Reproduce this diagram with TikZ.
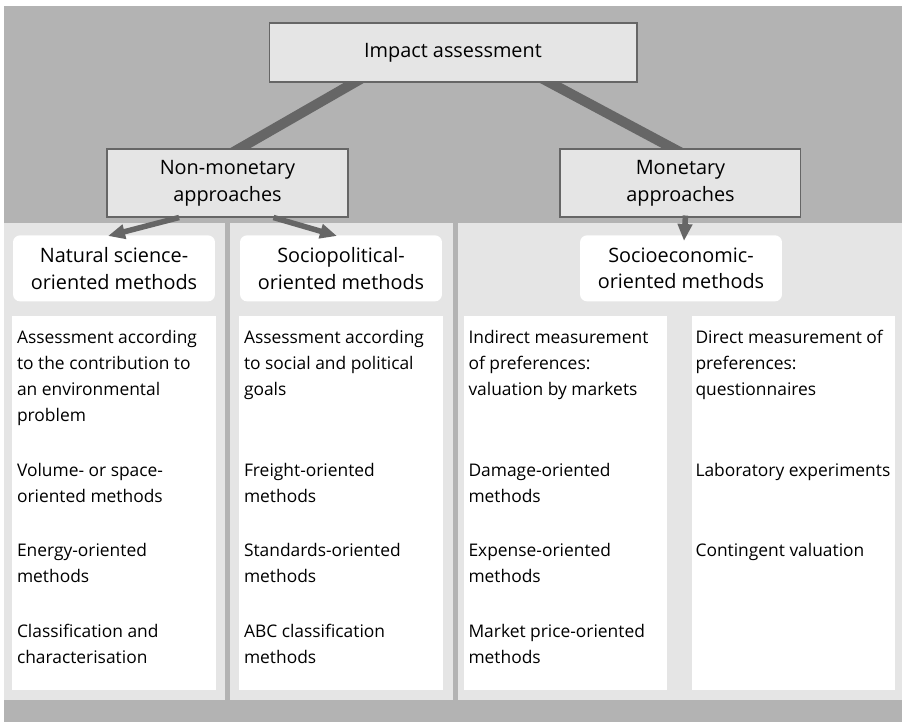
\documentclass[tikz,border=0pt]{standalone}
\usepackage{fontspec}
\setmainfont{Open Sans}
\usetikzlibrary{arrows.meta, positioning, calc}
\definecolor{paneldark}{HTML}{B3B3B3}
\definecolor{panellight}{HTML}{E5E5E5}
\definecolor{linkgray}{HTML}{666666}
\pgfdeclarelayer{panels}
\pgfdeclarelayer{links}
\pgfsetlayers{panels,links,main}

\begin{document}
\begin{tikzpicture}[
  x=0.02cm, y=-0.02cm,
  every node/.style={inner sep=0pt},
  approach/.style={rectangle, draw=linkgray, line width=0.6pt, fill=panellight,
    minimum width=4.82cm, minimum height=1.36cm, align=center,
    font=\fontsize{11.3}{15.3}\selectfont},
  method/.style={rectangle, rounded corners=0.14cm, fill=white,
    minimum width=4.04cm, minimum height=1.32cm, align=center,
    font=\fontsize{11.3}{15.3}\selectfont},
  listbox/.style={rectangle, fill=white, minimum width=4.08cm, minimum height=7.48cm},
  entry/.style={anchor=north west, align=left, font=\fontsize{9.9}{14.9}\selectfont},
  link/.style={line width=0.2cm, draw=linkgray},
  pointer/.style={draw=linkgray, line width=0.11cm, -{Triangle[length=0.34cm, width=0.28cm]}}
]
\useasboundingbox (0,0) rectangle (902,722);

% approaches
\node[approach, minimum width=7.36cm, minimum height=1.18cm] (impact) at (453,52.5) {Impact assessment};
\node[approach] (nonmon) at (227.5,183) {Non-monetary\\approaches};
\node[approach, right=4.22cm of nonmon] (mon) {Monetary\\approaches};

% method columns
\node[listbox] (natbox) at (114,503) {};
\node[listbox] (polbox) at (341,503) {};
\node[listbox] (indbox) at (565.5,503) {};
\node[listbox] (dirbox) at (793.5,503) {};

\node[method, above=0.28cm of natbox] (natural) {Natural science-\\oriented methods};
\node[method, above=0.28cm of polbox] (socpol) {Sociopolitical-\\oriented methods};
\node[method, anchor=south] (socecon) at ($(indbox.north)!0.5!(dirbox.north)+(1.5,-14)$)
  {Socioeconomic-\\oriented methods};

\node[entry] (nat1) at ($(natbox.north west)+(5,14)$) {Assessment according\\to the contribution to\\an environmental\\problem};
\node[entry] (nat2) at ($(natbox.north west)+(5,147)$) {Volume- or space-\\oriented methods};
\node[entry] (nat3) at ($(natbox.north west)+(5,227)$) {Energy-oriented\\methods};
\node[entry] (nat4) at ($(natbox.north west)+(5,308)$) {Classification and\\characterisation};

\node[entry] (pol1) at ($(polbox.north west)+(5,14)$) {Assessment according\\to social and political\\goals};
\node[entry] (pol2) at ($(polbox.north west)+(5,147)$) {Freight-oriented\\methods};
\node[entry] (pol3) at ($(polbox.north west)+(5,227)$) {Standards-oriented\\methods};
\node[entry] (pol4) at ($(polbox.north west)+(5,308)$) {ABC classification\\methods};

\node[entry] (ind1) at ($(indbox.north west)+(5,14)$) {Indirect measurement\\of preferences:\\valuation by markets};
\node[entry] (ind2) at ($(indbox.north west)+(5,147)$) {Damage-oriented\\methods};
\node[entry] (ind3) at ($(indbox.north west)+(5,227)$) {Expense-oriented\\methods};
\node[entry] (ind4) at ($(indbox.north west)+(5,308)$) {Market price-oriented\\methods};

\node[entry] (dir1) at ($(dirbox.north west)+(4,14)$) {Direct measurement of\\preferences:\\questionnaires};
\node[entry] (dir2) at ($(dirbox.north west)+(4,147)$) {Laboratory experiments};
\node[entry] (dir3) at ($(dirbox.north west)+(4,227)$) {Contingent valuation};

% panels behind everything
\begin{pgfonlayer}{panels}
  \fill[white] (0,0) rectangle (902,722);
  \fill[paneldark] (4,6) rectangle (902,722);
  \fill[panellight] (4,223) rectangle (225,700);
  \fill[panellight] (230,223) rectangle (453,700);
  \fill[panellight] (458,223) rectangle (902,700);
\end{pgfonlayer}

% thick links, cut off by the boxes
\coordinate (l-top) at ($(impact.south west)!0.233!(impact.south east)$);
\coordinate (l-bot) at ($(nonmon.north west)!0.55!(nonmon.north east)$);
\coordinate (r-top) at ($(impact.south west)!0.762!(impact.south east)$);
\coordinate (r-bot) at ($(mon.north west)!0.47!(mon.north east)$);
\begin{pgfonlayer}{links}
  \draw[link] ($(l-top)!-0.2!(l-bot)$) -- ($(l-top)!1.2!(l-bot)$);
  \draw[link] ($(r-top)!-0.2!(r-bot)$) -- ($(r-top)!1.2!(r-bot)$);
\end{pgfonlayer}

\draw[pointer] ($(nonmon.south west)!0.3!(nonmon.south east)$) -- ($(natural.north)+(-6,1)$);
\draw[pointer] ($(nonmon.south west)!0.69!(nonmon.south east)$) -- ($(socpol.north)+(-4,1)$);
\draw[pointer] ($(mon.south)+(5,-2)$) -- ($(socecon.north)+(3,6)$);

\end{tikzpicture}
\end{document}
